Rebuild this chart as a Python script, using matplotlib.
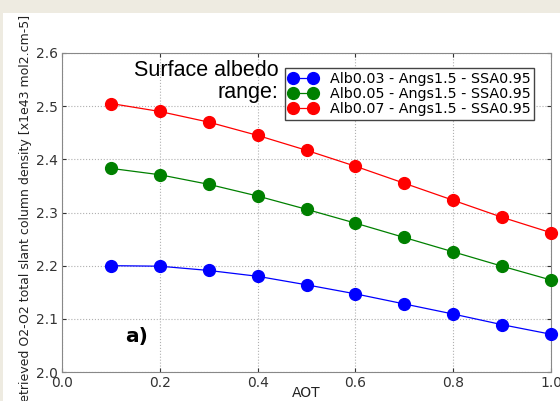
import numpy as np
import matplotlib
matplotlib.use('Agg')
import matplotlib.pyplot as plt
from matplotlib.patches import Rectangle

aot = [0.1, 0.2, 0.3, 0.4, 0.5, 0.6, 0.7, 0.8, 0.9, 1.0]
alb003 = [2.200, 2.199, 2.191, 2.180, 2.164, 2.147, 2.128, 2.109, 2.089, 2.071]
alb005 = [2.383, 2.371, 2.353, 2.331, 2.306, 2.280, 2.253, 2.226, 2.199, 2.173]
alb007 = [2.505, 2.490, 2.470, 2.445, 2.417, 2.387, 2.355, 2.323, 2.291, 2.262]
labels = ['Alb0.03 - Angs1.5 - SSA0.95',
          'Alb0.05 - Angs1.5 - SSA0.95',
          'Alb0.07 - Angs1.5 - SSA0.95']
colors = ['#0000ff', '#008000', '#ff0000']

fig = plt.figure(figsize=(5.6, 4.01), dpi=100, facecolor='#eeebe1')
# white page area (beige strip on top and left edge)
fig.patches.append(Rectangle((3/560, 0), 1, 1 - 13/401, transform=fig.transFigure,
                             facecolor='white', edgecolor='none', zorder=-5))

ax = fig.add_axes([62/560, 29/401, 489/560, 319/401])
for ys, c, lab in zip([alb003, alb005, alb007], colors, labels):
    ax.plot(aot, ys, '-o', color=c, mec=c, mfc=c, ms=8.5, lw=0.9, label=lab, clip_on=False, zorder=3)

ax.set_xlim(0.0, 1.0)
ax.set_ylim(2.0, 2.6)
ax.set_xticks(np.arange(0, 1.01, 0.2))
ax.set_yticks(np.arange(2.0, 2.61, 0.1))
ax.grid(True, linestyle=':', color='#b0b0b0', lw=0.8)
ax.tick_params(direction='in', labelsize=10, colors='#333333', length=3,
               top=True, right=True, pad=3)
for s in ax.spines.values():
    s.set_color('#888888')

ax.set_xlabel('AOT', fontsize=10, color='#222222', labelpad=-3)
ax.set_ylabel('Retrieved O2-O2 total slant column density [x1e43 mol2.cm-5]',
              fontsize=9, color='#222222')
ax.yaxis.set_label_coords(-0.061, 0.5)

ax.text(0.442, 0.978, 'Surface albedo\nrange:', transform=ax.transAxes,
        ha='right', va='top', fontsize=15.5, family='Liberation Sans', linespacing=1.05)
ax.text(0.129, 0.11, 'a)', transform=ax.transAxes, ha='left', va='center',
        fontsize=14.5, fontweight='bold')

leg = ax.legend(loc='upper left', bbox_to_anchor=(0.456, 0.953), borderaxespad=0,
                numpoints=2, fontsize=10.3, fancybox=False, framealpha=1,
                handlelength=2.0, handletextpad=0.9, borderpad=0.25, labelspacing=0.1)
leg.get_frame().set_edgecolor('#444444')

fig.savefig('out.png', dpi=100, facecolor=fig.get_facecolor())
